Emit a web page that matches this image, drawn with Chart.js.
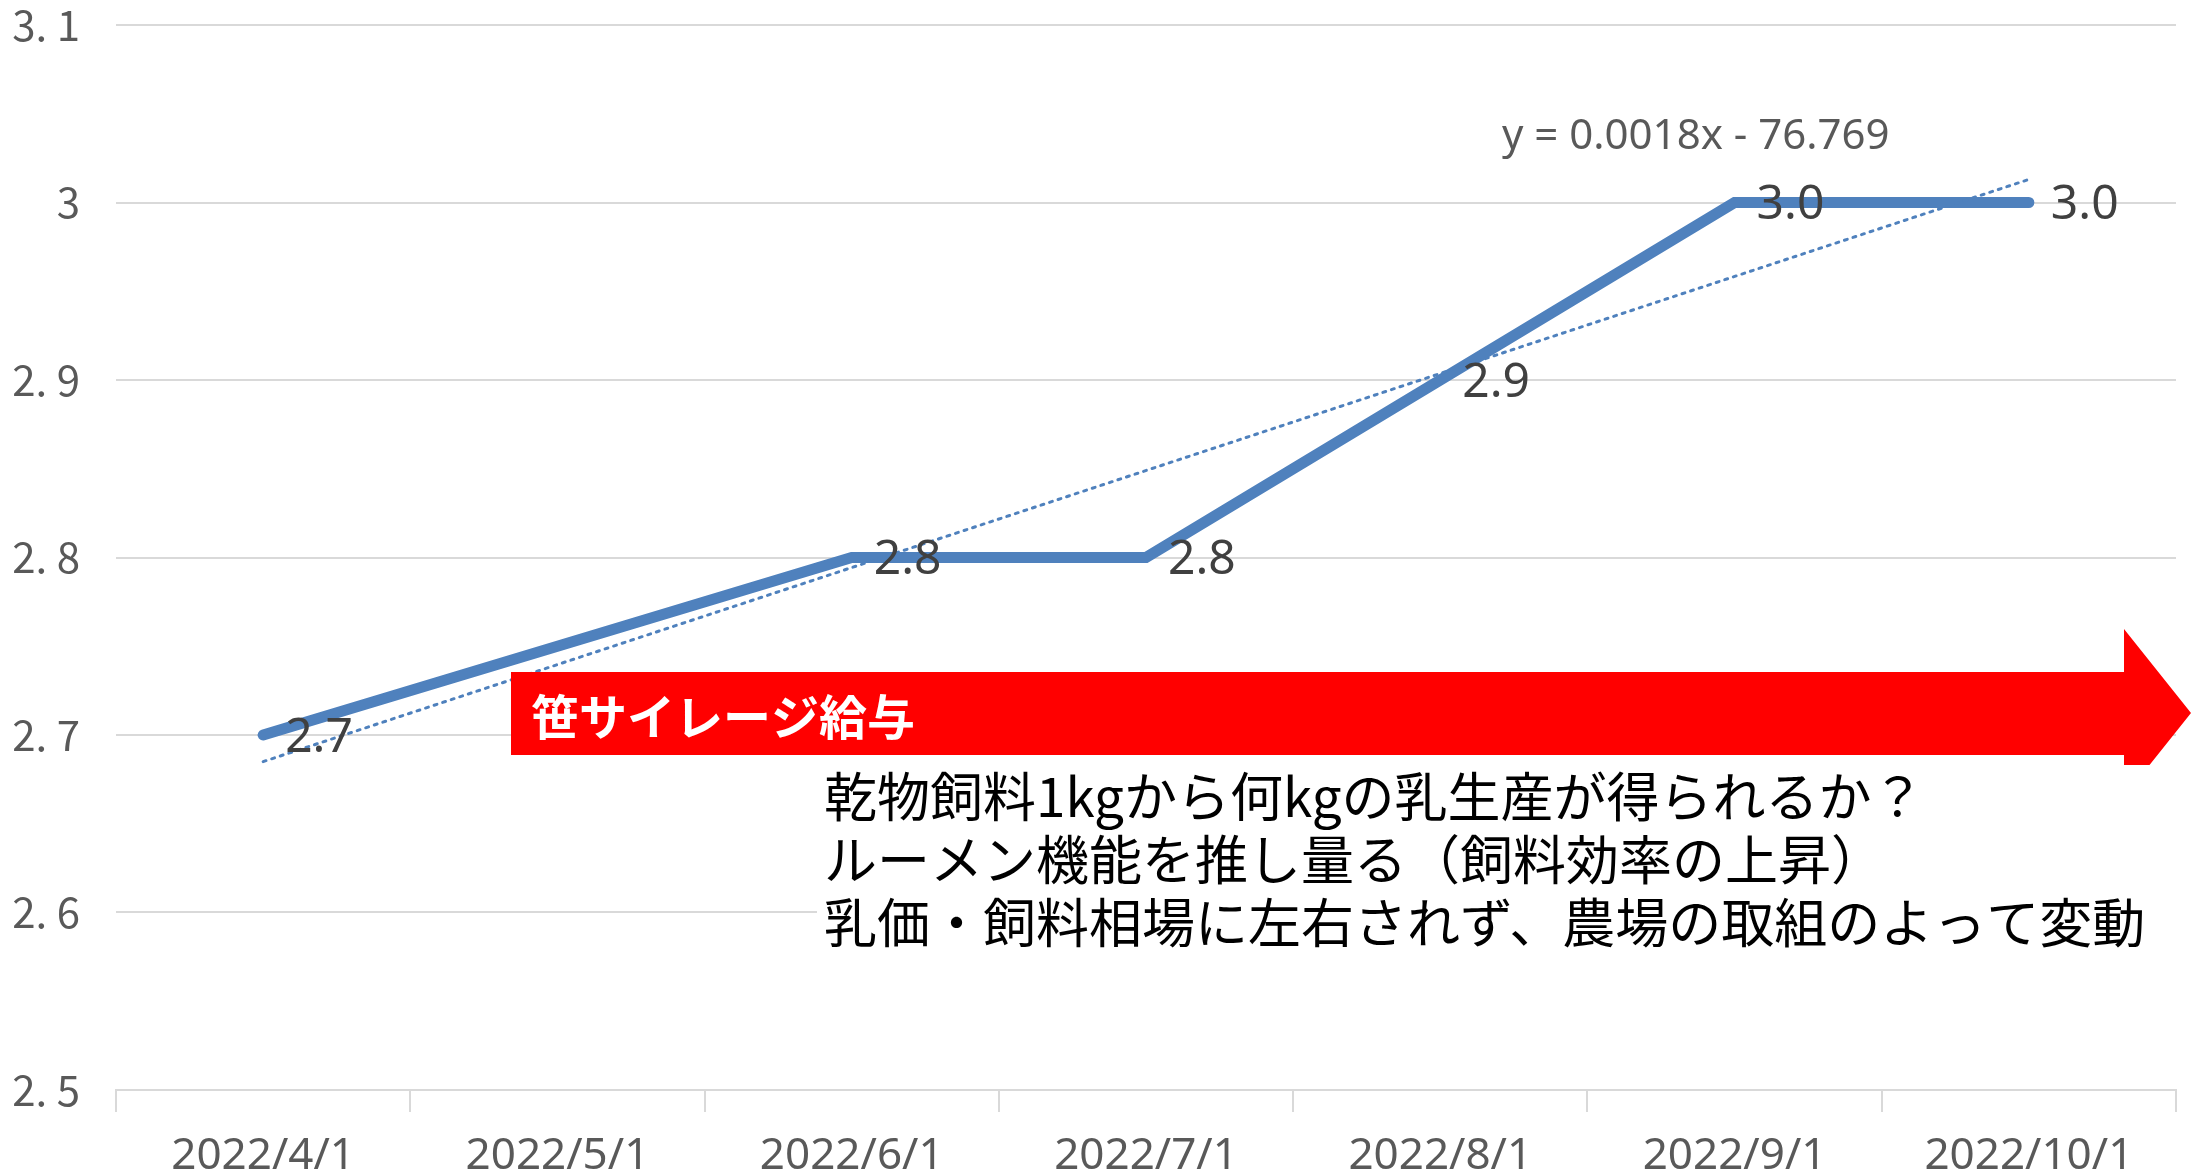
<!DOCTYPE html>
<html>
<head>
<meta charset="utf-8">
<script src="https://cdn.jsdelivr.net/npm/chart.js@4"></script>
<style>
  html, body { margin: 0; padding: 0; background: #fff; }
  canvas { display: block; }
</style>
</head>
<body>
<canvas id="chart" width="2191" height="1174"></canvas>
<script>
// chart values
const categories = ['2022/4/1', '2022/5/1', '2022/6/1', '2022/7/1', '2022/8/1', '2022/9/1', '2022/10/1'];
const ratioValues = [2.7, null, 2.8, 2.8, 2.9, 3.0, 3.0];
// dotted linear trend, only the two ends as seen in the picture
const trendValues = [2.685, null, null, null, null, null, 3.013];
const yMin = 2.5;
const yMax = 3.1;
const yStep = 0.1;
const trendEquation = 'y = 0.0018x - 76.769';
const arrowLabel = '笹サイレージ給与';
const noteLines = [
  '乾物飼料1kgから何kgの乳生産が得られるか？',
  'ルーメン機能を推し量る（飼料効率の上昇）',
  '乳価・飼料相場に左右されず、農場の取組のよって変動',
];

const LINE_BLUE = '#4F81BD';
const AXIS_GREY = '#D9D9D9';
const TEXT_GREY = '#595959';
const LATIN = "'Liberation Sans Narrow', 'Noto Sans', sans-serif";
const CJK = "'Noto Sans CJK JP', 'Noto Sans', sans-serif";

// white page behind the chart
const whiteBg = {
  id: 'whiteBg',
  beforeDraw: (ch) => {
    const { ctx } = ch;
    ctx.save();
    ctx.fillStyle = '#fff';
    ctx.fillRect(0, 0, ch.width, ch.height);
    ctx.restore();
  },
};

// data labels to the right of each point, like Excel's "Right" position
const pointLabels = {
  id: 'pointLabels',
  afterDatasetsDraw: (ch) => {
    const { ctx } = ch;
    const meta = ch.getDatasetMeta(1);
    ctx.save();
    ctx.font = `48px ${LATIN}`;
    ctx.fillStyle = '#404040';
    ctx.textBaseline = 'middle';
    ctx.textAlign = 'left';
    meta.data.forEach((pt, i) => {
      const v = ratioValues[i];
      if (v === null) return;
      ctx.fillText(v.toFixed(1), pt.x + 22, pt.y + 3);
    });
    ctx.restore();
  },
};

// arrow, its caption, the note block and the trend equation
const annotations = {
  id: 'annotations',
  afterDraw: (ch) => {
    const { ctx } = ch;
    ctx.save();

    ctx.font = `42px ${LATIN}`;
    ctx.fillStyle = TEXT_GREY;
    ctx.textBaseline = 'middle';
    ctx.fillText(trendEquation, 1502, 137);

    ctx.fillStyle = '#FF0000';
    ctx.beginPath();
    ctx.moveTo(511, 672);
    ctx.lineTo(2124, 672);
    ctx.lineTo(2124, 629);
    ctx.lineTo(2191, 713);
    ctx.lineTo(2124, 797);
    ctx.lineTo(2124, 755);
    ctx.lineTo(511, 755);
    ctx.closePath();
    ctx.fill();

    ctx.fillStyle = '#fff';
    ctx.font = `bold 48px ${CJK}`;
    ctx.fillText(arrowLabel, 531, 717);

    ctx.fillStyle = '#fff';
    ctx.fillRect(817, 765, 1374, 200);
    ctx.fillStyle = '#000';
    ctx.font = `53px ${CJK}`;
    noteLines.forEach((line, i) => {
      ctx.fillText(line, 824, 797 + i * 63);
    });

    ctx.restore();
  },
};

const yTickLabel = (value) => {
  const r = Math.round(value * 10) / 10;
  if (Number.isInteger(r)) return String(r);
  return r.toFixed(1).replace('.', '. ');
};

// eslint-disable-next-line no-undef
new Chart(document.getElementById('chart'), {
  type: 'line',
  data: {
    labels: categories,
    datasets: [
      {
        label: 'trend',
        data: trendValues,
        borderColor: LINE_BLUE,
        borderWidth: 3,
        borderDash: [3, 6],
        borderCapStyle: 'round',
        pointRadius: 0,
        spanGaps: true,
        fill: false,
      },
      {
        label: 'ratio',
        data: ratioValues,
        borderColor: LINE_BLUE,
        borderWidth: 11,
        borderCapStyle: 'round',
        borderJoinStyle: 'miter',
        pointRadius: 0,
        spanGaps: true,
        tension: 0,
        fill: false,
      },
    ],
  },
  plugins: [whiteBg, pointLabels, annotations],
  options: {
    responsive: false,
    animation: false,
    layout: {
      autoPadding: false,
      padding: { top: 25, right: 15, left: 0, bottom: 0 },
    },
    plugins: {
      legend: { display: false },
      tooltip: { enabled: false },
    },
    scales: {
      x: {
        type: 'category',
        offset: true,
        grid: {
          offset: true,
          drawOnChartArea: false,
          drawTicks: true,
          tickLength: 22,
          color: AXIS_GREY,
          lineWidth: 2,
        },
        border: { color: AXIS_GREY, width: 2 },
        ticks: {
          color: TEXT_GREY,
          font: { family: LATIN, size: 44 },
          padding: 18,
          maxRotation: 0,
          autoSkip: false,
        },
        afterFit: (axis) => {
          axis.height = 84;
          axis.paddingLeft = 0;
          axis.paddingRight = 0;
        },
      },
      y: {
        min: yMin,
        max: yMax,
        grid: {
          color: AXIS_GREY,
          lineWidth: 2,
          drawTicks: false,
        },
        border: { display: false },
        ticks: {
          stepSize: yStep,
          color: TEXT_GREY,
          font: { family: CJK, size: 42 },
          padding: 36,
          callback: (value) => yTickLabel(value),
        },
        afterFit: (axis) => {
          axis.width = 116;
          axis.paddingTop = 0;
          axis.paddingBottom = 0;
        },
      },
    },
  },
});
</script>
</body>
</html>
